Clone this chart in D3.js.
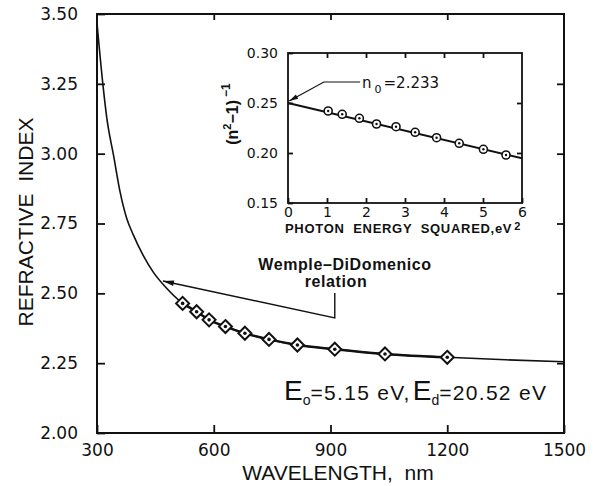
<!DOCTYPE html>
<html>
  <head>
    <script src="https://cdnjs.cloudflare.com/ajax/libs/d3/7.8.5/d3.min.js"></script>
    <style>
      body { margin: 0; background: #fff; }
      text { fill: #111; }
    </style>
  </head>
  <body>
    <div id="vis"></div>
    <script type="text/javascript">

        // measured points, main panel
        const wavelength = [520, 556, 588, 630, 680, 742, 815, 911, 1040, 1200];
        const refIndex = [2.464, 2.434, 2.405, 2.381, 2.357, 2.335, 2.315, 2.300, 2.283, 2.271];

        // Wemple-DiDomenico curve
        const curveL = [300, 315, 325, 343, 359, 376, 393, 419, 445, 479, 520, 556, 588, 630, 680, 742, 815, 911, 1040, 1200, 1350, 1500];
        const curveN = [3.468, 3.25, 3.13, 2.99, 2.865, 2.77, 2.71, 2.635, 2.575, 2.518, 2.464, 2.434, 2.405, 2.381, 2.357, 2.335, 2.315, 2.300, 2.283, 2.271, 2.262, 2.255];

        // inset: (n^2-1)^-1 vs photon energy squared
        const energySq = [1.03, 1.39, 1.83, 2.27, 2.77, 3.26, 3.81, 4.39, 5.01, 5.59];
        const invN = [0.242, 0.2387, 0.2347, 0.229, 0.2263, 0.2207, 0.2153, 0.2097, 0.2037, 0.198];
        const fitE = [0, 6];
        const fitInv = [0.250, 0.1947];

        const xTicks = [300, 600, 900, 1200, 1500];
        const yTicks = [2.00, 2.25, 2.50, 2.75, 3.00, 3.25, 3.50];
        const insetXTicks = [0, 1, 2, 3, 4, 5, 6];
        const insetYTicks = [0.15, 0.20, 0.25, 0.30];

        const svg = d3.select("#vis")
            .append("svg")
            .attr("width", 600)
            .attr("height", 486);

        const x = d3.scaleLinear().domain([300, 1500]).range([97, 564]);
        const y = d3.scaleLinear().domain([2.0, 3.5]).range([433, 14]);
        const ix = d3.scaleLinear().domain([0, 6]).range([288, 522]);
        const iy = d3.scaleLinear().domain([0.15, 0.30]).range([203, 53]);

        function styleAxis(g, size) {
            g.select(".domain").remove();
            g.selectAll(".tick line").attr("stroke", "#111").attr("stroke-width", 1.8);
            g.selectAll(".tick text")
                .attr("fill", "#111")
                .style("font-family", "DejaVu Sans")
                .style("font-size", size + "px");
        }

        function arrowHead(x0, y0, x1, y1, L, W) {
            const a = Math.atan2(y1 - y0, x1 - x0);
            const bx = x0 + L * Math.cos(a), by = y0 + L * Math.sin(a);
            svg.append("path")
                .attr("d", `M${x0},${y0}L${bx - W * Math.sin(a)},${by + W * Math.cos(a)}L${bx + W * Math.sin(a)},${by - W * Math.cos(a)}Z`)
                .attr("fill", "#111");
        }

        // ---- main panel ----
        svg.append("g").attr("transform", "translate(97,0)")
            .call(d3.axisLeft(y).tickValues(yTicks).tickSize(-8).tickPadding(19).tickFormat(d3.format(".2f")))
            .call(g => styleAxis(g, 17));
        svg.append("g").attr("transform", "translate(564,0)")
            .call(d3.axisRight(y).tickValues(yTicks.slice(1, -1)).tickSize(-7).tickFormat(""))
            .call(g => styleAxis(g, 17));
        svg.append("g").attr("transform", "translate(0,433)")
            .call(d3.axisBottom(x).tickValues(xTicks).tickSize(-8).tickPadding(11).tickFormat(d3.format("d")))
            .call(g => styleAxis(g, 17));
        svg.append("g").attr("transform", "translate(0,14)")
            .call(d3.axisTop(x).tickValues(xTicks.slice(1, -1)).tickSize(-6).tickFormat(""))
            .call(g => styleAxis(g, 17));

        svg.append("rect")
            .attr("x", 97).attr("y", 14)
            .attr("width", 564 - 97).attr("height", 433 - 14)
            .attr("fill", "none").attr("stroke", "#111").attr("stroke-width", 2);

        const curvePts = curveL.map((l, i) => [l, curveN[i]]);
        svg.append("path")
            .datum(curvePts)
            .attr("fill", "none").attr("stroke", "#111").attr("stroke-width", 1.6)
            .attr("d", d3.line().x(d => x(d[0])).y(d => y(d[1])).curve(d3.curveMonotoneX));

        const dataPts = wavelength.map((l, i) => [l, refIndex[i]]);
        svg.append("path")
            .datum(dataPts)
            .attr("fill", "none").attr("stroke", "#111").attr("stroke-width", 2.4)
            .attr("d", d3.line().x(d => x(d[0])).y(d => y(d[1])).curve(d3.curveMonotoneX));

        const diamonds = svg.selectAll("g.diamond")
            .data(dataPts)
            .enter()
            .append("g")
            .attr("class", "diamond")
            .attr("transform", d => `translate(${x(d[0])},${y(d[1])})`);
        diamonds.append("path")
            .attr("d", "M0,-6.5L6.5,0L0,6.5L-6.5,0Z")
            .attr("fill", "#fff").attr("stroke", "#111").attr("stroke-width", 2);
        diamonds.append("circle").attr("r", 1.8).attr("fill", "#111");

        // Wemple-DiDomenico arrow
        const arrowPts = [[469.5, 2.544], [911, 2.412], [911, 2.501]];
        svg.append("path")
            .attr("fill", "none").attr("stroke", "#111").attr("stroke-width", 1.4)
            .attr("d", d3.line().x(d => x(d[0])).y(d => y(d[1]))(arrowPts));
        arrowHead(x(arrowPts[0][0]), y(arrowPts[0][1]), x(arrowPts[1][0]), y(arrowPts[1][1]), 11, 2.8);

        svg.append("text")
            .attr("x", 345).attr("y", 270)
            .attr("text-anchor", "middle")
            .attr("letter-spacing", "0.6px")
            .style("font-family", "Liberation Sans").style("font-weight", "bold").style("font-size", "16px")
            .text("Wemple\u2013DiDomenico");
        svg.append("text")
            .attr("x", 336).attr("y", 287)
            .attr("text-anchor", "middle")
            .attr("letter-spacing", "0.6px")
            .style("font-family", "Liberation Sans").style("font-weight", "bold").style("font-size", "16px")
            .text("relation");

        // E0 / Ed label
        const eText = svg.append("text")
            .attr("x", 284).attr("y", 400)
            .style("font-family", "Liberation Sans")
            .style("font-size", "21px");
        eText.append("tspan").style("font-size", "28px").text("E");
        eText.append("tspan").style("font-size", "14px").attr("dy", 5).text("o");
        eText.append("tspan").attr("dy", -5).attr("letter-spacing", "1.3px").text("=5.15 eV,");
        eText.append("tspan").style("font-size", "28px").attr("dx", 2).text("E");
        eText.append("tspan").style("font-size", "14px").attr("dy", 5).text("d");
        eText.append("tspan").attr("dy", -5).attr("letter-spacing", "1.3px").text("=20.52 eV");

        // axis titles
        svg.append("text")
            .attr("x", 338).attr("y", 480)
            .attr("text-anchor", "middle")
            .style("font-family", "Liberation Sans").style("font-size", "21px")
            .attr("xml:space", "preserve")
            .text("WAVELENGTH,  nm");
        svg.append("text")
            .attr("transform", "translate(33,222) rotate(-90)")
            .attr("text-anchor", "middle")
            .style("font-family", "Liberation Sans").style("font-size", "21px")
            .attr("xml:space", "preserve")
            .text("REFRACTIVE  INDEX");

        // ---- inset ----
        svg.append("g").attr("transform", "translate(288,0)")
            .call(d3.axisLeft(iy).tickValues(insetYTicks).tickSize(-5).tickPadding(10).tickFormat(d3.format(".2f")))
            .call(g => styleAxis(g, 14));
        svg.append("g").attr("transform", "translate(522,0)")
            .call(d3.axisRight(iy).tickValues(insetYTicks.slice(1, -1)).tickSize(-5).tickFormat(""))
            .call(g => styleAxis(g, 14));
        svg.append("g").attr("transform", "translate(0,203)")
            .call(d3.axisBottom(ix).tickValues(insetXTicks).tickSize(-5).tickPadding(4).tickFormat(d3.format("d")))
            .call(g => styleAxis(g, 14));
        svg.append("g").attr("transform", "translate(0,53)")
            .call(d3.axisTop(ix).tickValues(insetXTicks.slice(1, -1)).tickSize(-5).tickFormat(""))
            .call(g => styleAxis(g, 14));

        svg.append("rect")
            .attr("x", 288).attr("y", 53)
            .attr("width", 522 - 288).attr("height", 203 - 53)
            .attr("fill", "none").attr("stroke", "#111").attr("stroke-width", 1.8);

        svg.append("path")
            .datum(fitE.map((e, i) => [e, fitInv[i]]))
            .attr("fill", "none").attr("stroke", "#111").attr("stroke-width", 2)
            .attr("d", d3.line().x(d => ix(d[0])).y(d => iy(d[1])));

        const circles = svg.selectAll("g.ipt")
            .data(energySq.map((e, i) => [e, invN[i]]))
            .enter()
            .append("g")
            .attr("class", "ipt")
            .attr("transform", d => `translate(${ix(d[0])},${iy(d[1])})`);
        circles.append("circle").attr("r", 4).attr("fill", "#fff").attr("stroke", "#111").attr("stroke-width", 1.6);
        circles.append("circle").attr("r", 1.2).attr("fill", "#111");

        // n0 annotation
        const n0Pts = [[0.03, 0.252], [0.92, 0.271], [1.85, 0.271]];
        svg.append("path")
            .attr("fill", "none").attr("stroke", "#111").attr("stroke-width", 1.2)
            .attr("d", d3.line().x(d => ix(d[0])).y(d => iy(d[1]))(n0Pts));
        arrowHead(ix(n0Pts[0][0]), iy(n0Pts[0][1]), ix(n0Pts[1][0]), iy(n0Pts[1][1]), 9, 2.5);

        const n0Text = svg.append("text")
            .attr("x", 362).attr("y", 88)
            .style("font-family", "DejaVu Sans").style("font-size", "15px");
        n0Text.append("tspan").text("n");
        n0Text.append("tspan").attr("dy", 5).attr("dx", 3).style("font-size", "11px").text("0");
        n0Text.append("tspan").attr("dy", -5).attr("dx", 2).text("=2.233");

        // inset titles
        const ixTitle = svg.append("text")
            .attr("x", 285).attr("y", 233)
            .style("font-family", "Liberation Sans").style("font-weight", "bold").style("font-size", "13px")
            .attr("letter-spacing", "0.7px")
            .attr("xml:space", "preserve");
        ixTitle.append("tspan").text("PHOTON  ENERGY  SQUARED,eV");
        ixTitle.append("tspan").attr("dy", -3).attr("dx", 2).style("font-size", "11px").text("2");

        const iyTitle = svg.append("text")
            .attr("transform", "translate(238,114) rotate(-90)")
            .attr("text-anchor", "middle")
            .style("font-family", "Liberation Sans").style("font-weight", "bold").style("font-size", "16px");
        iyTitle.append("tspan").text("(n");
        iyTitle.append("tspan").attr("dy", -7).style("font-size", "11px").text("2");
        iyTitle.append("tspan").attr("dy", 7).text("\u22121)");
        iyTitle.append("tspan").attr("dy", -8).attr("dx", 3).style("font-size", "12px").text("\u22121");

    </script>
  </body>
</html>
